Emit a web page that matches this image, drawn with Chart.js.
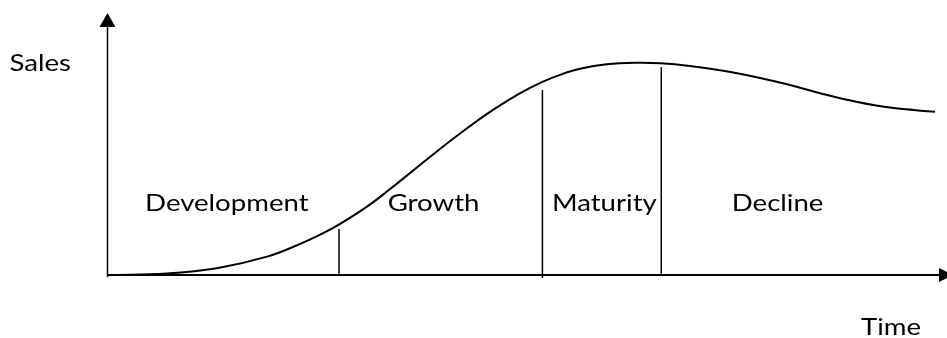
<!DOCTYPE html>
<html><head><meta charset="utf-8">
<script src="https://cdn.jsdelivr.net/npm/chart.js@4/dist/chart.umd.min.js"></script>
<style>html,body{margin:0;padding:0;background:#fff;} #wrap{width:947px;height:338px;position:relative}</style>
</head><body><div id="wrap"><canvas id="c"></canvas></div>
<script>
// Product life cycle curve (time vs sales, arbitrary units 0..100)
const timeValues  = [0, 7.0, 13.0, 19.0, 22.9, 26.9, 30.9, 33.7, 36.9, 39.7, 42.9, 46.0, 49.2, 51.9, 54.0, 56.4, 59.6, 63.2, 66.0, 69.5, 73.5, 77.5, 81.5, 85.4, 89.4, 93.4, 98.8];
const salesValues = [0, 0.6, 2.6, 7.0, 11.8, 18.0, 26.0, 32.8, 41.0, 48.2, 56.0, 63.0, 69.3, 73.7, 76.4, 78.7, 80.4, 81.0, 80.8, 79.8, 78.0, 75.5, 72.5, 69.1, 66.1, 63.9, 62.3];
const stageNames = ['Development', 'Growth', 'Maturity', 'Decline'];
const stageLabelTime = [14.2, 38.9, 59.3, 80.0];
const stageLabelSales = 24.5;
const boundaryTime = [27.6, 51.9, 66.1];
const boundaryTop = [17.6, 70.6, 79.3];
const boundaryBottom = [0, -1.1, 0];
const yAxisTitle = 'Sales';
const xAxisTitle = 'Time';

const FONT = '23px Lato';
const TEXT_SCALE_X = 1.2;

function drawText(ctx, text, x, y, align) {
  ctx.save();
  ctx.font = FONT;
  ctx.fillStyle = '#000';
  ctx.textBaseline = 'alphabetic';
  const w = ctx.measureText(text).width * TEXT_SCALE_X;
  let left = x;
  if (align === 'center') left = x - w / 2;
  ctx.translate(left, y);
  ctx.scale(TEXT_SCALE_X, 1);
  ctx.textAlign = 'left';
  ctx.fillText(text, 0, 0);
  ctx.restore();
}

const axesPlugin = {
  id: 'lifecycleAxes',
  afterDatasetsDraw(chart) {
    const ctx = chart.ctx;
    const xs = chart.scales.x, ys = chart.scales.y;
    const ca = chart.chartArea;
    const x0 = ca.left - 0.5;
    const yBase = ys.getPixelForValue(0);
    ctx.save();
    ctx.strokeStyle = '#000';
    ctx.fillStyle = '#000';
    // y axis
    ctx.lineWidth = 1.5;
    ctx.beginPath();
    ctx.moveTo(x0, yBase + 2);
    ctx.lineTo(x0, ca.top + 14);
    ctx.stroke();
    ctx.beginPath();
    ctx.moveTo(x0, ca.top);
    ctx.lineTo(x0 - 8, ca.top + 14);
    ctx.lineTo(x0 + 8, ca.top + 14);
    ctx.closePath();
    ctx.fill();
    // x axis
    ctx.lineWidth = 2;
    ctx.beginPath();
    ctx.moveTo(ca.left + 2, yBase);
    ctx.lineTo(ca.right - 4, yBase);
    ctx.stroke();
    ctx.beginPath();
    ctx.moveTo(ca.right + 8, yBase);
    ctx.lineTo(ca.right - 6, yBase - 7);
    ctx.lineTo(ca.right - 6, yBase + 7);
    ctx.closePath();
    ctx.fill();
    ctx.restore();
    // axis titles
    drawText(ctx, yAxisTitle, 9.5, 70.5, 'left');
    drawText(ctx, xAxisTitle, 861, 335, 'left');
    // stage labels
    stageNames.forEach((name, i) => {
      drawText(ctx, name, xs.getPixelForValue(stageLabelTime[i]), ys.getPixelForValue(stageLabelSales), 'center');
    });
  }
};

const datasets = [{
  data: timeValues.map((t, i) => ({x: t, y: salesValues[i]})),
  borderColor: '#000',
  borderWidth: 2,
  pointRadius: 0,
  tension: 0.4,
  fill: false,
  clip: false
}];
boundaryTime.forEach((t, i) => {
  datasets.push({
    data: [{x: t, y: boundaryBottom[i]}, {x: t, y: boundaryTop[i]}],
    borderColor: '#000',
    borderWidth: 1.5,
    pointRadius: 0,
    fill: false,
    clip: false
  });
});

new Chart(document.getElementById('c'), {
  type: 'line',
  data: { datasets },
  options: {
    responsive: true,
    maintainAspectRatio: false,
    animation: false,
    events: [],
    layout: { padding: { left: 108, right: 2, top: 13, bottom: 63 } },
    plugins: { legend: { display: false }, tooltip: { enabled: false } },
    scales: {
      x: { type: 'linear', min: 0, max: 100, display: false },
      y: { type: 'linear', min: 0, max: 100, display: false }
    }
  },
  plugins: [axesPlugin]
});
</script>
</body></html>
